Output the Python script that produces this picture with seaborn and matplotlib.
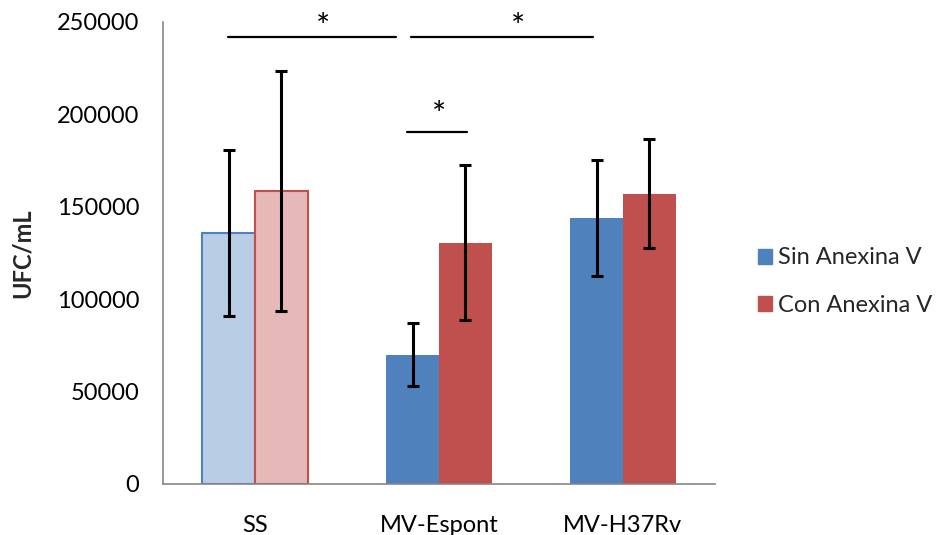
import numpy as np
import pandas as pd
import matplotlib
matplotlib.use("Agg")
import matplotlib.pyplot as plt
import matplotlib.patches as mpatches
import seaborn as sns

# ===== data =====
groups = ["SS", "MV-Espont", "MV-H37Rv"]
treatments = ["Sin Anexina V", "Con Anexina V"]
sin_mean = [136000, 70000, 144000]
sin_err = [45000, 17000, 31500]
con_mean = [158500, 130500, 157000]
con_err = [65000, 42000, 29500]
yticks = [0, 50000, 100000, 150000, 200000, 250000]

# significance brackets (x in category units, y in UFC/mL)
sig_x0 = [-0.145, 0.824, 0.848]
sig_x1 = [0.766, 1.154, 1.838]
sig_y = [242000, 190500, 242000]
star_x = [0.37, 1.0, 1.43]
star_y = [241800, 194000, 241800]

blue, red = "#4F81BD", "#C0504D"
blue_light, red_light = "#B9CDE5", "#E6B9B8"

df = pd.DataFrame({
    "group": groups * 2,
    "treatment": [treatments[0]] * 3 + [treatments[1]] * 3,
    "ufc": sin_mean + con_mean,
})

sns.set_theme(style="white")
plt.rcParams["font.family"] = ["Lato", "DejaVu Sans"]
fs = 17

fig, ax = plt.subplots(figsize=(9.37, 5.35), dpi=100)
fig.subplots_adjust(left=163/937, right=715/937, bottom=1-484/535, top=1-22/535)

sns.barplot(data=df, x="group", y="ufc", hue="treatment", palette=[blue, red],
            width=0.575, errorbar=None, saturation=1, legend=False, ax=ax,
            linewidth=0)

errs = [sin_err, con_err]
lights = [blue_light, red_light]
edges = [blue, red]
bar_conts = list(ax.containers)
for i, cont in enumerate(bar_conts):
    xs = [p.get_x() + p.get_width() / 2 for p in cont]
    hs = [p.get_height() for p in cont]
    # SS bars drawn lighter with an outline
    cont[0].set_facecolor(lights[i])
    cont[0].set_edgecolor(edges[i])
    cont[0].set_linewidth(1.5)
    ax.errorbar(xs, hs, yerr=errs[i], fmt="none", ecolor="black",
                elinewidth=2.2, capsize=4.3, capthick=2.2, zorder=5)

for x0, x1, y in zip(sig_x0, sig_x1, sig_y):
    ax.plot([x0, x1], [y, y], color="black", lw=1.6, clip_on=False)
for x, y in zip(star_x, star_y):
    ax.text(x, y, "*", ha="center", va="baseline", fontsize=24, color="black")

ax.set_xlim(-0.5, 2.5)
ax.set_ylim(0, 250000)
ax.set_yticks(yticks)
ax.set_yticklabels([str(v) for v in yticks], fontsize=fs)
ax.set_xticks(range(len(groups)))
ax.set_xticklabels(groups, fontsize=fs)
ax.set_xticks([0.5, 1.5, 2.5], minor=True)
ax.tick_params(axis="x", which="major", length=0, pad=22, colors="black")
ax.tick_params(axis="x", which="minor", length=5, width=1.2, color="#868686")
ax.tick_params(axis="y", length=5, width=1.2, color="#868686", pad=12, labelcolor="black")
ax.set_xlabel("")
ax.set_ylabel("UFC/mL", fontsize=fs, fontweight="bold", labelpad=17)

for s in ["top", "right"]:
    ax.spines[s].set_visible(False)
for s in ["left", "bottom"]:
    ax.spines[s].set_color("#868686")
    ax.spines[s].set_linewidth(1.2)

handles = [mpatches.Patch(color=blue, label=treatments[0]),
           mpatches.Patch(color=red, label=treatments[1])]
fig.legend(handles=handles, loc="upper left", bbox_to_anchor=(758/937, 1-247.5/535),
           frameon=False, fontsize=fs, handlelength=0.61, handleheight=0.61,
           handletextpad=0.22, labelspacing=1.12, borderpad=0, borderaxespad=0)

fig.savefig("out.png", dpi=100)
